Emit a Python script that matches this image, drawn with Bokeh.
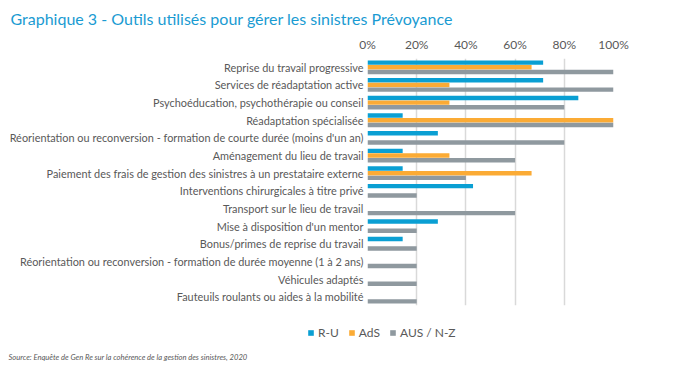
from bokeh.plotting import figure
from bokeh.models import ColumnDataSource, FactorRange, Legend, LegendItem, Label, FixedTicker, PrintfTickFormatter
from bokeh.transform import dodge
from bokeh.embed import file_html
from bokeh.resources import INLINE

categories = [
    "Reprise du travail progressive",
    "Services de réadaptation active",
    "Psychoéducation, psychothérapie ou conseil",
    "Réadaptation spécialisée",
    "Réorientation ou reconversion - formation de courte durée (moins d'un an)",
    "Aménagement du lieu de travail",
    "Paiement des frais de gestion des sinistres à un prestataire externe",
    "Interventions chirurgicales à titre privé",
    "Transport sur le lieu de travail",
    "Mise à disposition d'un mentor",
    "Bonus/primes de reprise du travail",
    "Réorientation ou reconversion - formation de durée moyenne (1 à 2 ans)",
    "Véhicules adaptés",
    "Fauteuils roulants ou aides à la mobilité",
]
ru = [71.4, 71.4, 85.7, 14.3, 28.6, 14.3, 14.3, 42.9, 0, 28.6, 14.3, 0, 0, 0]
ads = [66.7, 33.3, 33.3, 100, 0, 33.3, 66.7, 0, 0, 0, 0, 0, 0, 0]
aus = [100, 100, 80, 100, 80, 60, 40, 20, 60, 20, 20, 20, 20, 20]
series_names = ["R-U", "AdS", "AUS / N-Z"]
x_ticks = [0, 20, 40, 60, 80, 100]
title_text = "Graphique 3 - Outils utilisés pour gérer les sinistres Prévoyance"
source_text = "Source: Enquête de Gen Re sur la cohérence de la gestion des sinistres, 2020"

colors = ["#0a9fd3", "#fbab35", "#8f999f"]
FONT = "Lato"
TXT = "#595959"

src = ColumnDataSource(dict(cat=categories, ru=ru, ads=ads, aus=aus))

# ---- main chart ----
p = figure(width=674, height=318, output_backend="svg", toolbar_location=None,
           y_range=FactorRange(*reversed(categories)), x_range=(0, 100),
           x_axis_location="above", min_border_left=367, min_border_right=61,
           min_border_top=57, min_border_bottom=13)
p.outline_line_color = None
p.background_fill_color = "white"
p.border_fill_color = "white"

p.title.text = title_text
p.title.align = "left"
p.title.offset = -357
p.title.standoff = 12
p.title.text_font = FONT
p.title.text_font_size = "16px"
p.title.text_font_style = "normal"
p.title.text_color = "#1a9bd2"

for col, off, c in zip(["ru", "ads", "aus"], [0.265, 0.0, -0.265], colors):
    p.hbar(y=dodge("cat", off, range=p.y_range), right=col, left=0, height=0.25,
           source=src, fill_color=c, line_color=None)

p.xaxis.ticker = FixedTicker(ticks=x_ticks)
p.xaxis.formatter = PrintfTickFormatter(format="%d%%")
p.xaxis.axis_line_color = None
p.xaxis.major_tick_line_color = None
p.xaxis.minor_tick_line_color = None
p.xaxis.major_tick_out = 0
p.xaxis.minor_tick_out = 0
p.xaxis.major_label_text_font = FONT
p.xaxis.major_label_text_font_size = "12px"
p.xaxis.major_label_text_color = TXT
p.xaxis.major_label_standoff = 7

p.yaxis.axis_line_color = None
p.yaxis.major_tick_line_color = None
p.yaxis.minor_tick_line_color = None
p.yaxis.major_tick_out = 0
p.yaxis.minor_tick_out = 0
p.yaxis.major_label_text_font = FONT
p.yaxis.major_label_text_font_size = "10.9px"
p.yaxis.major_label_text_color = TXT
p.yaxis.major_label_standoff = 4

p.xgrid.grid_line_color = "#d9d9d9"
p.xgrid.grid_line_width = 1.5
p.ygrid.grid_line_color = None

# ---- legend + source strip ----
q = figure(width=674, height=54, output_backend="svg", toolbar_location=None,
           x_axis_type=None, y_axis_type=None, x_range=(1, 2), y_range=(1, 2),
           min_border_left=0, min_border_right=0, min_border_top=0, min_border_bottom=0)
q.outline_line_color = None
q.grid.grid_line_color = None
q.border_fill_color = "white"

# zero-size proxy bars (outside the visible range) that only supply legend swatches
legend_renderers = []
for c in colors:
    legend_renderers.append(q.hbar(y=0, left=0, right=0, height=0, fill_color=c, line_color=None))

legend = Legend(items=[LegendItem(label=n, renderers=[r]) for n, r in zip(series_names, legend_renderers)],
                orientation="horizontal", location=(307, 32),
                label_text_font=FONT, label_text_font_size="12px", label_text_color=TXT,
                glyph_width=7, glyph_height=7, label_standoff=4, spacing=9,
                padding=0, margin=0, background_fill_alpha=0, border_line_color=None,
                label_height=12)
q.add_layout(legend, "center")

q.add_layout(Label(x=8, y=16, x_units="screen", y_units="screen",
                   text=source_text, text_font=FONT, text_font_size="7.6px",
                   text_baseline="alphabetic",
                   text_font_style="italic", text_color=TXT))

open("out.html", "w").write(file_html([p, q], INLINE))
